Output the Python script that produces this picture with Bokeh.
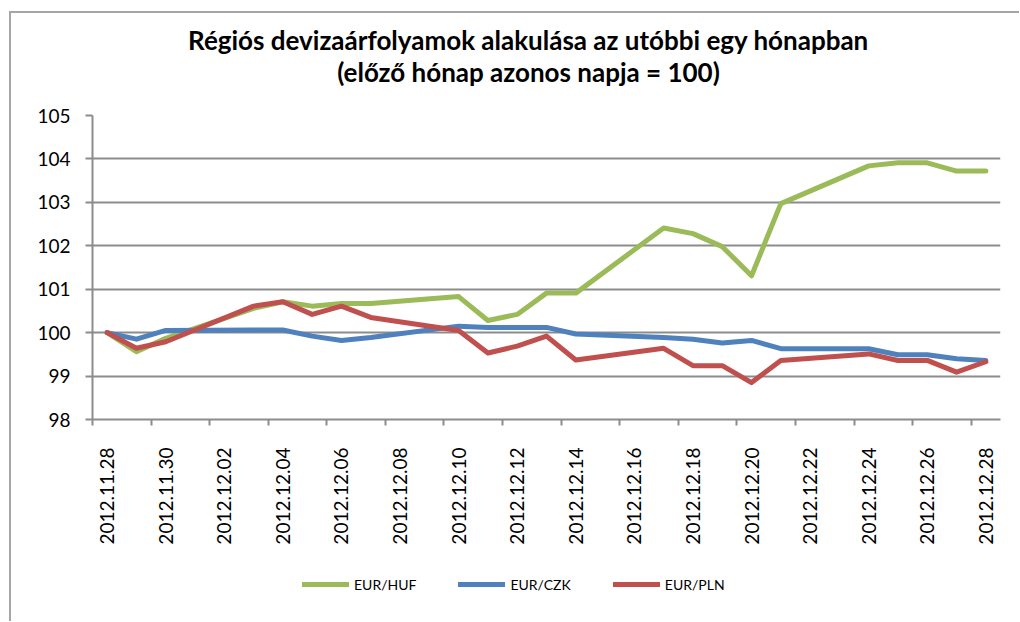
import pandas as pd
from math import pi
from bokeh.plotting import figure
from bokeh.layouts import column
from bokeh.models import FixedTicker, Legend, LegendItem, Label
from bokeh.embed import file_html
from bokeh.resources import INLINE

dates = ["2012.11.28", "2012.11.29", "2012.11.30", "2012.12.03", "2012.12.04",
         "2012.12.05", "2012.12.06", "2012.12.07", "2012.12.10", "2012.12.11",
         "2012.12.12", "2012.12.13", "2012.12.14", "2012.12.17", "2012.12.18",
         "2012.12.19", "2012.12.20", "2012.12.21", "2012.12.24", "2012.12.25",
         "2012.12.26", "2012.12.27", "2012.12.28"]
eur_huf = [100.00, 99.56, 99.87, 100.56, 100.71, 100.61, 100.67, 100.67, 100.83, 100.28,
           100.42, 100.91, 100.91, 102.41, 102.28, 101.98, 101.31, 102.97, 103.84, 103.91,
           103.91, 103.72, 103.72]
eur_czk = [100.00, 99.85, 100.05, 100.06, 100.06, 99.92, 99.82, 99.89, 100.15, 100.12,
           100.12, 100.12, 99.97, 99.89, 99.85, 99.76, 99.82, 99.63, 99.63, 99.49,
           99.49, 99.40, 99.36]
eur_pln = [100.00, 99.64, 99.79, 100.61, 100.71, 100.42, 100.61, 100.35, 100.05, 99.53,
           99.69, 99.92, 99.37, 99.64, 99.24, 99.24, 98.85, 99.36, 99.51, 99.36,
           99.36, 99.09, 99.33]
tick_labels = ["2012.11.28", "2012.11.30", "2012.12.02", "2012.12.04", "2012.12.06",
               "2012.12.08", "2012.12.10", "2012.12.12", "2012.12.14", "2012.12.16",
               "2012.12.18", "2012.12.20", "2012.12.22", "2012.12.24", "2012.12.26",
               "2012.12.28"]
y_ticks = [98, 99, 100, 101, 102, 103, 104, 105]
series_names = ["EUR/HUF", "EUR/CZK", "EUR/PLN"]
colors = ["#9BBB59", "#4F81BD", "#C0504D"]
title_lines = ["Régiós devizaárfolyamok alakulása az utóbbi egy hónapban",
               "(előző hónap azonos napja = 100)"]

start = pd.to_datetime(dates[0], format="%Y.%m.%d")
day = [(pd.to_datetime(d, format="%Y.%m.%d") - start).days for d in dates]
tick_pos = [(pd.to_datetime(t, format="%Y.%m.%d") - start).days for t in tick_labels]
last_day = day[-1]

GRAY = "#8c8c8c"
FONT = "Lato"
W = 1008
TH = 80  # title strip height

# title strip (pixel coordinates, y measured from the strip's top)
tf = figure(width=W, height=TH, x_range=(0, W), y_range=(TH, 0),
            output_backend="svg", toolbar_location=None,
            x_axis_type=None, y_axis_type=None, min_border=0)
tf.outline_line_color = None
tf.grid.visible = False
for txt, yy in zip(title_lines, [26, 58]):
    tf.add_layout(Label(x=484, y=yy, text=txt, text_align="center", text_baseline="middle",
                        text_font=FONT, text_font_size="26px", text_font_style="bold",
                        text_color="black"))

p = figure(width=W, height=547 - TH, x_range=(-0.5, last_day + 0.5), y_range=(98, 105),
           output_backend="svg", toolbar_location=None,
           min_border_left=81, min_border_right=19, min_border_top=22, min_border_bottom=141)
p.outline_line_color = None
p.background_fill_color = "white"
p.border_fill_color = "white"

for vals, c in zip([eur_huf, eur_czk, eur_pln], colors):
    p.line(day, vals, line_color=c, line_width=5, line_join="round", line_cap="round")

# x axis
xt = FixedTicker(ticks=tick_pos, minor_ticks=[t - 0.5 for t in tick_pos])
p.xaxis.ticker = xt
p.xaxis.major_label_overrides = {tp: lab for tp, lab in zip(tick_pos, tick_labels)}
p.xaxis.major_label_orientation = pi / 2
p.xaxis.major_tick_line_color = None
p.xaxis.minor_tick_out = 6
p.xaxis.minor_tick_in = 0
p.xaxis.minor_tick_line_color = GRAY
p.xaxis.minor_tick_line_width = 2
p.xaxis.axis_line_color = GRAY
p.xaxis.axis_line_width = 2
p.xaxis.major_label_standoff = 22
p.xaxis.major_label_text_font = FONT
p.xaxis.major_label_text_font_size = "19px"
p.xaxis.major_label_text_color = "black"
p.xgrid.visible = False

# y axis
p.yaxis.ticker = FixedTicker(ticks=y_ticks)
p.yaxis.major_tick_out = 7
p.yaxis.major_tick_in = 0
p.yaxis.major_tick_line_color = GRAY
p.yaxis.major_tick_line_width = 2
p.yaxis.minor_tick_line_color = None
p.yaxis.axis_line_color = GRAY
p.yaxis.axis_line_width = 2
p.yaxis.major_label_standoff = 15
p.yaxis.major_label_text_font = FONT
p.yaxis.major_label_text_font_size = "19px"
p.yaxis.major_label_text_color = "black"
p.ygrid.ticker = FixedTicker(ticks=y_ticks)
p.ygrid.grid_line_color = GRAY
p.ygrid.grid_line_width = 2

# legend strip below the chart (sample lines sit outside the visible range)
lg = figure(width=W, height=61, x_range=(0, 1), y_range=(0, 1),
            output_backend="svg", toolbar_location=None,
            x_axis_type=None, y_axis_type=None, min_border=0)
lg.outline_line_color = None
lg.grid.visible = False
items = []
for n, c in zip(series_names, colors):
    r = lg.line([5, 6], [5, 5], line_color=c, line_width=5, line_cap="round")
    items.append(LegendItem(label=n, renderers=[r]))
legend = Legend(items=items, orientation="horizontal", location=(210, 27))
legend.border_line_color = None
legend.background_fill_alpha = 0
legend.glyph_width = 47
legend.glyph_height = 20
legend.label_height = 20
legend.label_standoff = 5
legend.spacing = 42
legend.padding = 0
legend.margin = 0
legend.label_text_font = FONT
legend.label_text_font_size = "14px"
legend.label_text_color = "black"
lg.add_layout(legend, "center")

page = column(tf, p, lg, spacing=0)
page.styles = {"margin-left": "9px", "margin-top": "11px",
               "border-left": "2px solid #a6a6a6", "border-top": "2px solid #a6a6a6"}

open("out.html", "w").write(file_html(page, INLINE))
